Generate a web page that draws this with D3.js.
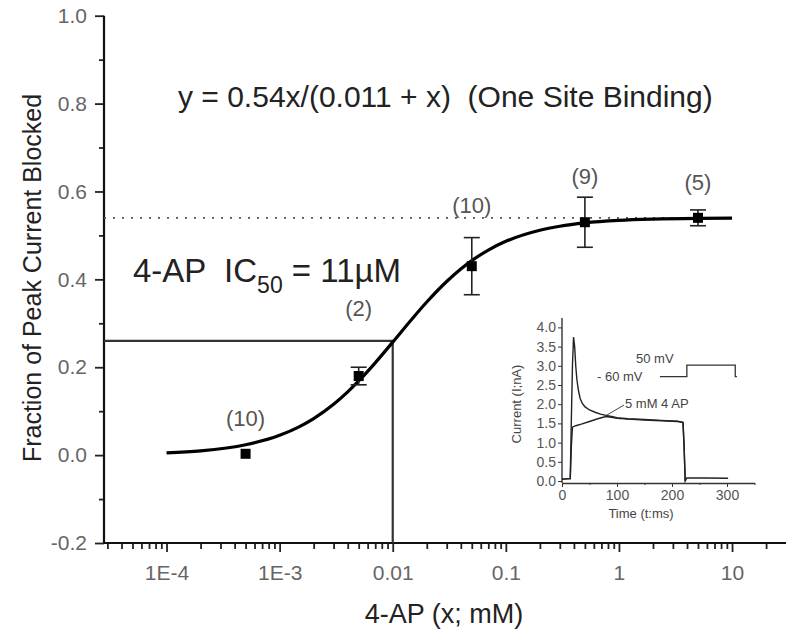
<!DOCTYPE html>
<html><head><meta charset="utf-8">
<script src="https://cdn.jsdelivr.net/npm/d3@7"></script>
<style>body{margin:0;background:#fff} svg{display:block} text{font-family:"Liberation Sans",Arial,sans-serif}</style>
</head><body><svg id="c" width="800" height="643"></svg>
<script>
// ---- main data ----
const concentrations = [0.0005, 0.005, 0.05, 0.5, 5];
const fractionBlocked = [0.003, 0.18, 0.43, 0.53, 0.54];
const errorSEM = [0, 0.02, 0.065, 0.057, 0.018];
const nLabels = ["(10)", "(2)", "(10)", "(9)", "(5)"];
const nLabelY = [0.08, 0.33, 0.565, 0.63, 0.617];
const fitX = [1e-4, 2e-4, 5e-4, 1e-3, 1.5e-3, 2e-3, 3e-3, 4e-3, 5e-3, 7e-3, 0.01, 0.015, 0.02, 0.03, 0.04, 0.05, 0.07, 0.1, 0.2, 0.3, 0.5, 1, 2, 5, 10];
const fitY = [0.0049, 0.0096, 0.0235, 0.045, 0.0648, 0.0831, 0.1157, 0.144, 0.1688, 0.21, 0.2571, 0.3115, 0.3484, 0.3951, 0.4235, 0.4426, 0.4667, 0.4865, 0.5118, 0.5209, 0.5284, 0.5341, 0.537, 0.5388, 0.5394];
const ic50X = 0.01, ic50Y = 0.26, plateauY = 0.54;
const xTickValues = [1e-4, 1e-3, 0.01, 0.1, 1, 10];
const xTickLabels = ["1E-4", "1E-3", "0.01", "0.1", "1", "10"];
const yTickValues = [-0.2, 0, 0.2, 0.4, 0.6, 0.8, 1.0];
const yTickLabels = ["-0.2", "0.0", "0.2", "0.4", "0.6", "0.8", "1.0"];
const yMinorValues = [-0.1, 0.1, 0.3, 0.5, 0.7, 0.9];
// ---- inset data ----
const ctrlT = [0, 15, 17, 19, 21, 23, 25, 27, 30, 33, 37, 42, 50, 60, 70, 80, 90, 100, 120, 150, 180, 210, 220, 222, 224, 227, 260, 302];
const ctrlI = [0.05, 0.06, 1.6, 3.0, 3.75, 3.5, 3.0, 2.65, 2.35, 2.15, 2.02, 1.93, 1.85, 1.79, 1.74, 1.71, 1.68, 1.65, 1.62, 1.6, 1.58, 1.56, 1.53, 0.9, 0.0, 0.08, 0.08, 0.07];
const apT = [0, 15, 17, 19, 25, 35, 50, 65, 80, 90, 100, 120, 150, 180, 210, 220, 222, 224];
const apI = [0.05, 0.06, 0.9, 1.4, 1.44, 1.48, 1.55, 1.62, 1.68, 1.66, 1.63, 1.61, 1.59, 1.57, 1.55, 1.52, 0.9, 0.0];
const protoT = [178, 227, 227, 315, 315, 318];
const protoV = [2.72, 2.72, 3.02, 3.02, 2.72, 2.72];
const insetXTicks = [0, 100, 200, 300];
const insetYTicks = [0, 0.5, 1, 1.5, 2, 2.5, 3, 3.5, 4];

const FONT = "Liberation Sans, Arial, sans-serif";
const svg = d3.select("#c");
const x = d3.scaleLog().domain([2.8e-5, 30]).range([104, 786]);
const y = d3.scaleLinear().domain([-0.2, 1.0]).range([543, 15.7]);

// axes
const gx = svg.append("g").attr("transform", "translate(0,543)");
const minorX = [];
for (let e = -5; e <= 1; e++) for (let m = 2; m <= 9; m++) { const v = m * Math.pow(10, e); if (v > 2.8e-5 && v < 30) minorX.push(v); }
gx.append("g").call(d3.axisBottom(x).tickValues(minorX).tickSize(6).tickFormat(""))
  .call(g => g.select(".domain").remove());
gx.append("g").call(d3.axisBottom(x).tickValues(xTickValues).tickSize(9).tickPadding(13).tickFormat((d, i) => xTickLabels[i]))
  .call(g => g.select(".domain").remove());
gx.selectAll("line").attr("stroke", "#222").attr("stroke-width", 1.8);
gx.selectAll("text").attr("font-size", 21).attr("fill", "#666").attr("font-family", FONT);
gx.append("line").attr("x1", 104).attr("x2", 786).attr("stroke", "#111").attr("stroke-width", 2.2);

const gy = svg.append("g").attr("transform", "translate(104,0)");
gy.append("g").call(d3.axisLeft(y).tickValues(yMinorValues).tickSize(5).tickFormat(""))
  .call(g => g.select(".domain").remove());
gy.append("g").call(d3.axisLeft(y).tickValues(yTickValues).tickSize(9).tickPadding(8).tickFormat((d, i) => yTickLabels[i]))
  .call(g => g.select(".domain").remove());
gy.selectAll("line").attr("stroke", "#222").attr("stroke-width", 1.8);
gy.selectAll("text").attr("font-size", 21).attr("fill", "#666").attr("font-family", FONT);
gy.append("line").attr("y1", 15.7).attr("y2", 543).attr("stroke", "#111").attr("stroke-width", 2.2);

// titles
svg.append("text").attr("x", 444).attr("y", 623).attr("text-anchor", "middle")
  .attr("font-size", 27).attr("fill", "#222").text("4-AP (x; mM)");
svg.append("text").attr("transform", "translate(41,278) rotate(-90)").attr("text-anchor", "middle")
  .attr("font-size", 25).attr("fill", "#222").text("Fraction of Peak Current Blocked");

// dotted plateau
svg.append("line").attr("x1", x(2.8e-5)).attr("x2", x(10)).attr("y1", y(plateauY)).attr("y2", y(plateauY))
  .attr("stroke", "#555").attr("stroke-width", 1.6).attr("stroke-dasharray", "2,7");
// IC50 lines
svg.append("path").attr("d", `M${x(2.8e-5)},${y(ic50Y)}H${x(ic50X)}V${y(-0.2)}`)
  .attr("fill", "none").attr("stroke", "#333").attr("stroke-width", 2.2);

// fit curve
svg.append("path").datum(fitX.map((v, i) => [v, fitY[i]]))
  .attr("d", d3.line().x(d => x(d[0])).y(d => y(d[1])).curve(d3.curveMonotoneX))
  .attr("fill", "none").attr("stroke", "#000").attr("stroke-width", 3.2);

// error bars and points
const pts = concentrations.map((c, i) => ({ c, v: fractionBlocked[i], e: errorSEM[i], n: nLabels[i], ny: nLabelY[i] }));
const eb = svg.append("g").attr("stroke", "#222").attr("stroke-width", 1.6);
pts.filter(d => d.e > 0).forEach(d => {
  const cx = x(d.c);
  eb.append("line").attr("x1", cx).attr("x2", cx).attr("y1", y(d.v - d.e)).attr("y2", y(d.v + d.e));
  eb.append("line").attr("x1", cx - 8).attr("x2", cx + 8).attr("y1", y(d.v - d.e)).attr("y2", y(d.v - d.e));
  eb.append("line").attr("x1", cx - 8).attr("x2", cx + 8).attr("y1", y(d.v + d.e)).attr("y2", y(d.v + d.e));
});
svg.append("g").selectAll("rect").data(pts).join("rect")
  .attr("x", d => x(d.c) - 5).attr("y", d => y(d.v) - 5).attr("width", 10).attr("height", 10).attr("fill", "#000");
svg.append("g").selectAll("text").data(pts).join("text")
  .attr("x", d => x(d.c)).attr("y", d => y(d.ny)).attr("text-anchor", "middle").attr("dominant-baseline", "middle")
  .attr("font-size", 22).attr("fill", "#555").text(d => d.n);

// annotations
svg.append("text").attr("x", 178).attr("y", 107).attr("font-size", 30).attr("fill", "#222")
  .attr("xml:space", "preserve").text("y = 0.54x/(0.011 + x)  (One Site Binding)");
const ic = svg.append("text").attr("x", 133).attr("y", 282).attr("font-size", 33).attr("fill", "#222").attr("xml:space", "preserve");
ic.append("tspan").text("4-AP  IC");
ic.append("tspan").attr("font-size", 23).attr("dy", 11).text("50");
ic.append("tspan").attr("dy", -11).text(" = 11\u00B5M");

// ---- inset ----
const ix = d3.scaleLinear().domain([0, 350]).range([562, 754.5]);
const iy = d3.scaleLinear().domain([0, 4]).range([481, 327.4]);
const ins = svg.append("g");
const ixa = ins.append("g").attr("transform", "translate(0,483)")
  .call(d3.axisBottom(ix).tickValues(insetXTicks).tickSize(4).tickPadding(3).tickSizeOuter(0));
ixa.append("g").call(d3.axisBottom(ix).tickValues([50, 150, 250, 350]).tickSize(2).tickFormat(""))
  .call(g => g.select(".domain").remove());
const iya = ins.append("g").attr("transform", "translate(562,0)")
  .call(d3.axisLeft(iy).tickValues(insetYTicks).tickSize(4).tickPadding(2).tickSizeOuter(0).tickFormat(d3.format(".1f")));
iya.select(".domain").attr("d", `M0,${483}V${318}`);
ins.selectAll(".domain").attr("stroke", "#333").attr("stroke-width", 1.4);
ins.selectAll(".tick line").attr("stroke", "#333");
ins.selectAll(".tick text").attr("font-size", 14).attr("fill", "#555").attr("font-family", FONT);
ins.append("text").attr("x", 641).attr("y", 518).attr("text-anchor", "middle").attr("font-size", 13).attr("fill", "#444").text("Time (t:ms)");
ins.append("text").attr("transform", "translate(521,404) rotate(-90)").attr("text-anchor", "middle").attr("font-size", 13).attr("fill", "#444").text("Current (I;nA)");
const tl = d3.line().x(d => ix(d[0])).y(d => iy(d[1]));
ins.append("path").datum(ctrlT.map((t, i) => [t, ctrlI[i]])).attr("d", tl).attr("fill", "none").attr("stroke", "#222").attr("stroke-width", 1.4);
ins.append("path").datum(apT.map((t, i) => [t, apI[i]])).attr("d", tl).attr("fill", "none").attr("stroke", "#222").attr("stroke-width", 1.4);
ins.append("path").datum(protoT.map((t, i) => [t, protoV[i]])).attr("d", tl).attr("fill", "none").attr("stroke", "#333").attr("stroke-width", 1.3);
ins.append("text").attr("x", 636).attr("y", 363).attr("font-size", 13).attr("fill", "#444").text("50 mV");
ins.append("text").attr("x", 597).attr("y", 381).attr("font-size", 13).attr("fill", "#444").text("- 60 mV");
ins.append("text").attr("x", 625).attr("y", 408).attr("font-size", 13).attr("fill", "#444").text("5 mM 4 AP");
ins.append("line").attr("x1", 624).attr("y1", 405).attr("x2", ix(75)).attr("y2", iy(1.66)).attr("stroke", "#444").attr("stroke-width", 1);
</script></body></html>
